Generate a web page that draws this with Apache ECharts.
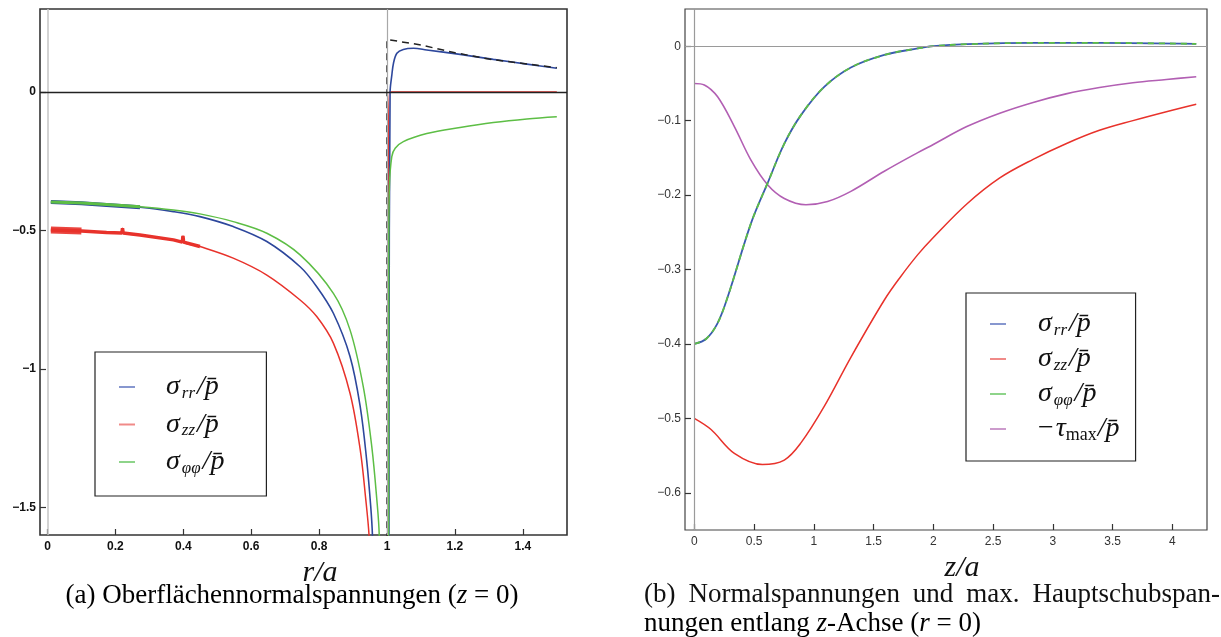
<!DOCTYPE html>
<html><head><meta charset="utf-8">
<script src="https://cdn.jsdelivr.net/npm/echarts@6/dist/echarts.min.js"></script>
<style>html,body{margin:0;padding:0;background:#fff}#c{width:1221px;height:637px}</style>
</head><body><div id="c"></div>
<script>
// ---------- Panel (a): surface stresses at z = 0, over r/a ----------
const leftXTicks = [0, 0.2, 0.4, 0.6, 0.8, 1, 1.2, 1.4];
const leftYTicks = [-1.5, -1, -0.5, 0];

const aRR_r = [0.01,0.1,0.174,0.2725,0.371,0.449,0.547,0.646,0.744,0.793,0.842,0.891,0.921,0.940,0.952,0.957,0.975,0.995,1.003,1.006,1.009,1.014,1.019,1.029,1.048,1.078,1.117,1.215,1.313,1.412,1.5];
const aRR_v = [-0.397,-0.402,-0.408,-0.416,-0.432,-0.450,-0.486,-0.540,-0.631,-0.703,-0.799,-0.955,-1.136,-1.329,-1.497,-1.60,-2.3,-5,-5,-1.0,0,0.06,0.104,0.140,0.154,0.158,0.152,0.136,0.118,0.101,0.086];

const aPP_r = [0.01,0.1,0.174,0.2725,0.371,0.449,0.547,0.646,0.744,0.842,0.891,0.930,0.955,0.970,0.977,0.99,0.998,1.002,1.005,1.007,1.014,1.024,1.048,1.117,1.215,1.313,1.412,1.5];
const aPP_v = [-0.397,-0.401,-0.406,-0.414,-0.426,-0.440,-0.468,-0.510,-0.588,-0.727,-0.859,-1.064,-1.280,-1.473,-1.60,-2.5,-5,-5,-0.6,-0.342,-0.233,-0.203,-0.179,-0.150,-0.128,-0.110,-0.097,-0.089];

const aZZ_r = [0.01,0.1,0.174,0.219,0.221,0.223,0.2725,0.371,0.397,0.399,0.401,0.449,0.547,0.646,0.744,0.793,0.842,0.891,0.921,0.9375,0.947,0.97,0.995,1.001,1.004,1.007,1.02,1.5];
const aZZ_v = [-0.498,-0.502,-0.507,-0.509,-0.492,-0.509,-0.516,-0.534,-0.542,-0.520,-0.542,-0.558,-0.600,-0.661,-0.751,-0.811,-0.907,-1.088,-1.292,-1.473,-1.60,-2.1,-5,-5,-0.3,0,0,0];

const aRef_r = [1.0,1.0,1.1,1.2,1.3,1.4,1.5];
const aRef_v = [-5,0.19,0.17,0.142,0.119,0.1035,0.0878];

// ---------- Panel (b): stresses along the z axis (r = 0) ----------
const rightXTicks = [0,0.5,1,1.5,2,2.5,3,3.5,4];
const rightYTicks = [-0.6,-0.5,-0.4,-0.3,-0.2,-0.1,0];

const bRR_z = [0,0.1,0.195,0.279,0.474,0.613,0.753,0.892,1.087,1.31,1.59,1.87,2.0,2.28,2.83,3.39,4.2];
const bRR_v = [-0.400,-0.393,-0.372,-0.337,-0.238,-0.184,-0.131,-0.0926,-0.0546,-0.0286,-0.0117,-0.003,0.0,0.0027,0.0045,0.0045,0.0031];
const bPP_z = [0,0.1,0.195,0.279,0.474,0.613,0.753,0.892,1.087,1.31,1.59,1.87,2.0,2.28,2.83,3.39,4.2];
const bPP_v = [-0.400,-0.393,-0.372,-0.337,-0.238,-0.184,-0.131,-0.0926,-0.0546,-0.0286,-0.0117,-0.003,0.0,0.0027,0.0045,0.0045,0.0031];
const bZZ_z = [0,0.14,0.335,0.57,0.753,0.892,1.087,1.31,1.59,1.72,1.87,2.0,2.28,2.556,2.835,3.11,3.39,3.67,3.95,4.2];
const bZZ_v = [-0.5,-0.515,-0.547,-0.562,-0.556,-0.533,-0.484,-0.418,-0.341,-0.311,-0.280,-0.257,-0.212,-0.177,-0.152,-0.131,-0.113,-0.100,-0.088,-0.078];
const bTau_z = [0,0.084,0.195,0.335,0.474,0.613,0.753,0.934,1.115,1.31,1.59,1.87,2.0,2.28,2.556,2.835,3.11,3.39,3.67,3.95,4.2];
const bTau_v = [-0.050,-0.052,-0.068,-0.108,-0.153,-0.186,-0.2045,-0.213,-0.2086,-0.195,-0.168,-0.143,-0.132,-0.108,-0.090,-0.0755,-0.064,-0.0555,-0.049,-0.0447,-0.041];

const NAMES = {rr:'σ_rr/p̄', zz:'σ_zz/p̄', pp:'σ_φφ/p̄', tau:'−τ_max/p̄'};
const LEG_RICH = {
  [NAMES.rr]: '{m|σ}{s|rr}{m|/p\u0304}',
  [NAMES.zz]: '{m|σ}{s|zz}{m|/p\u0304}',
  [NAMES.pp]: '{m|σ}{s|φφ}{m|/p\u0304}',
  [NAMES.tau]: '{u|−}{m|τ}{t|max}{m|/p\u0304}'
};

const pair = (xs, ys) => xs.map((x, i) => [x, ys[i]]);
const fmt = v => (v < 0 ? '\u2212' : '') + String(Math.abs(v));

const COL = {blueA:'#2d479c', red:'#e8322b', green:'#5dbe45', blueB:'#3a5ab0', purple:'#b25fb3'};
const LEGCOL = {blue:'#8797cf', red:'#f08a88', green:'#8ed48a', purple:'#cc9bcc'};

const serif = '"Liberation Serif", "DejaVu Serif", serif';
const sans = '"Liberation Sans", Arial, sans-serif';

const legRich = size => ({
  m: {fontFamily: serif, fontStyle: 'italic', fontSize: size, lineHeight: 30, color: '#111'},
  s: {fontFamily: serif, fontStyle: 'italic', fontSize: Math.round(size*0.6), lineHeight: 15, verticalAlign: 'bottom', color: '#111', padding:[0,2,0,2]},
  t: {fontFamily: serif, fontSize: Math.round(size*0.66), lineHeight: 15, verticalAlign: 'bottom', color: '#111', padding:[0,1,0,0]},
  u: {fontFamily: serif, fontSize: size, lineHeight: 30, color: '#111', padding:[0,2,0,0]}
});

function xAx(grid, min, max, ticks, name, bold, namePad, nameGap) {
  return {
    gridIndex: grid, type: 'value', min, max,
    axisLine: {show: false, onZero: false},
    splitLine: {show: false},
    axisTick: {show: true, inside: true, length: 6, customValues: ticks, lineStyle: {color: '#333', width: 1.2}},
    axisLabel: {customValues: ticks, formatter: fmt, margin: 6, fontSize: 12, fontFamily: sans,
      fontWeight: bold ? 'bold' : 'normal', color: bold ? '#111' : '#333'},
    name, nameLocation: 'middle', nameGap,
    nameTextStyle: {fontFamily: serif, fontStyle: 'italic', fontSize: 30, color: '#111', padding: namePad}
  };
}
function yAx(grid, min, max, ticks, bold) {
  return {
    gridIndex: grid, type: 'value', min, max,
    axisLine: {show: false, onZero: false},
    splitLine: {show: false},
    axisTick: {show: true, inside: true, length: 6, customValues: ticks, lineStyle: {color: '#333', width: 1.2}},
    axisLabel: {customValues: ticks, formatter: fmt, margin: 4, fontSize: 12, fontFamily: sans,
      fontWeight: bold ? 'bold' : 'normal', color: bold ? '#111' : '#333'}
  };
}
function line(name, xi, data, color, width, extra) {
  return Object.assign({
    name, type: 'line', xAxisIndex: xi, yAxisIndex: xi, data, symbol: 'none',
    smooth: 0.35, clip: true, silent: true,
    lineStyle: {color, width}, itemStyle: {color}
  }, extra || {});
}
const refLines = (xi, list) => ({
  name: 'ref' + xi, type: 'line', xAxisIndex: xi, yAxisIndex: xi, data: [], silent: true, z: 1,
  markLine: {silent: true, symbol: 'none', label: {show: false}, animation: false, data: list}
});

const aRR = pair(aRR_r, aRR_v), aPP = pair(aPP_r, aPP_v), aZZ = pair(aZZ_r, aZZ_v);

const series = [
  refLines(0, [
    {xAxis: 0, lineStyle: {color: '#c4c4c4', width: 1.5, type: 'solid'}},
    {xAxis: 1, lineStyle: {color: '#a8a8a8', width: 1.2, type: 'solid'}},
    {yAxis: 0, lineStyle: {color: '#222', width: 1.3, type: 'solid'}}
  ]),
  line(NAMES.zz, 0, aZZ, COL.red, 1.5),
  line(NAMES.zz, 0, aZZ.filter(p => p[0] <= 0.1), COL.red, 7, {smooth: false, lineStyle: {color: COL.red, width: 7, opacity: 0.9}}),
  line(NAMES.zz, 0, aZZ.filter(p => p[0] <= 0.449), COL.red, 3.5, {smooth: false}),
  line(NAMES.rr, 0, aRR, COL.blueA, 1.6),
  line(NAMES.rr, 0, aRR.filter(p => p[0] <= 0.2725), COL.blueA, 4, {smooth: false}),
  line(NAMES.pp, 0, aPP, COL.green, 1.5),
  line(NAMES.pp, 0, aPP.filter(p => p[0] <= 0.2725), COL.green, 3, {smooth: false}),
  line('ref', 0, pair(aRef_r, aRef_v), '#222', 1.5, {smooth: false, lineStyle: {color: '#222', width: 1.5, type: [7, 5]}}),

  refLines(1, [
    {xAxis: 0, lineStyle: {color: '#9a9a9a', width: 1.2, type: 'solid'}},
    {yAxis: 0, lineStyle: {color: '#9a9a9a', width: 1.2, type: 'solid'}}
  ]),
  line(NAMES.zz, 1, pair(bZZ_z, bZZ_v), COL.red, 1.5),
  line(NAMES.tau, 1, pair(bTau_z, bTau_v), COL.purple, 1.6),
  line(NAMES.rr, 1, pair(bRR_z, bRR_v), COL.blueB, 1.8),
  line(NAMES.pp, 1, pair(bPP_z, bPP_v), COL.green, 1.8, {lineStyle: {color: COL.green, width: 1.8, type: [6, 5]}})
];

function legend(left, top, names, cols, pad, gap, tpad) {
  return {
    show: true, orient: 'vertical', left, top, padding: pad, itemGap: gap,
    itemWidth: 16, itemHeight: 2, icon: 'rect', selectedMode: false,
    borderColor: '#222', borderWidth: 1.2, backgroundColor: '#fff',
    data: names.map((n, i) => ({name: n, icon: 'rect', itemStyle: {color: cols[i]}})),
    formatter: n => LEG_RICH[n],
    textStyle: {padding: [0, 0, 0, tpad], rich: legRich(28)}
  };
}

// caption texts
const mctx = document.createElement('canvas').getContext('2d');
const capSize = 27;
mctx.font = capSize + 'px "Liberation Serif"';
const words = ['(b)', 'Normalspannungen', 'und', 'max.', 'Hauptschubspan-'];
const wW = words.map(w => mctx.measureText(w).width);
const capL = 644, capR = 1220;
const wGap = (capR - capL - wW.reduce((a, b) => a + b, 0)) / (words.length - 1);
let cx = capL;
const capStyle = {fontFamily: serif, fontSize: capSize, fill: '#111'};
const graphics = words.map((w, i) => {
  const el = {type: 'text', silent: true, style: Object.assign({text: w, x: cx, y: 595, textVerticalAlign: 'middle', textAlign: 'left'}, capStyle)};
  cx += wW[i] + wGap;
  return el;
});
const capRich = {
  n: {fontFamily: serif, fontSize: capSize, color: '#111'},
  i: {fontFamily: serif, fontSize: capSize, fontStyle: 'italic', color: '#111'}
};
graphics.push({type: 'text', silent: true, style: {text: '{n|nungen entlang }{i|z}{n|-Achse (}{i|r}{n| = 0)}', x: capL, y: 624, textVerticalAlign: 'middle', textAlign: 'left', rich: capRich}});
graphics.push({type: 'text', silent: true, style: {text: '{n|(a) Oberflächennormalspannungen (}{i|z}{n| = 0)}', x: 292, y: 596, textVerticalAlign: 'middle', textAlign: 'center', rich: capRich}});

const option = {
  animation: false,
  backgroundColor: '#fff',
  grid: [
    {left: 40, top: 9, width: 527, height: 526, show: true, borderColor: '#333', borderWidth: 1.6, backgroundColor: 'rgba(0,0,0,0)'},
    {left: 685, top: 9, width: 522, height: 521, show: true, borderColor: '#444', borderWidth: 1.2, backgroundColor: 'rgba(0,0,0,0)'}
  ],
  xAxis: [
    xAx(0, -0.022, 1.53, leftXTicks, 'r/a', true, [0, 0, 0, 33], 17),
    xAx(1, -0.078, 4.29, rightXTicks, 'z/a', false, [0, 0, 0, 32], 18)
  ],
  yAxis: [
    yAx(0, -1.6, 0.3, leftYTicks, true),
    yAx(1, -0.65, 0.05, rightYTicks, false)
  ],
  legend: [
    legend(95, 352, [NAMES.rr, NAMES.zz, NAMES.pp], [LEGCOL.blue, LEGCOL.red, LEGCOL.green], [21, 42, 19, 24], 8.5, 26),
    legend(966, 293, [NAMES.rr, NAMES.zz, NAMES.pp, NAMES.tau], [LEGCOL.blue, LEGCOL.red, LEGCOL.green, LEGCOL.purple], [17, 16, 17, 24], 6, 27)
  ],
  series,
  graphic: graphics
};

const chart = echarts.init(document.getElementById('c'), null, {renderer: 'canvas'});
chart.setOption(option);
</script>
</body></html>
